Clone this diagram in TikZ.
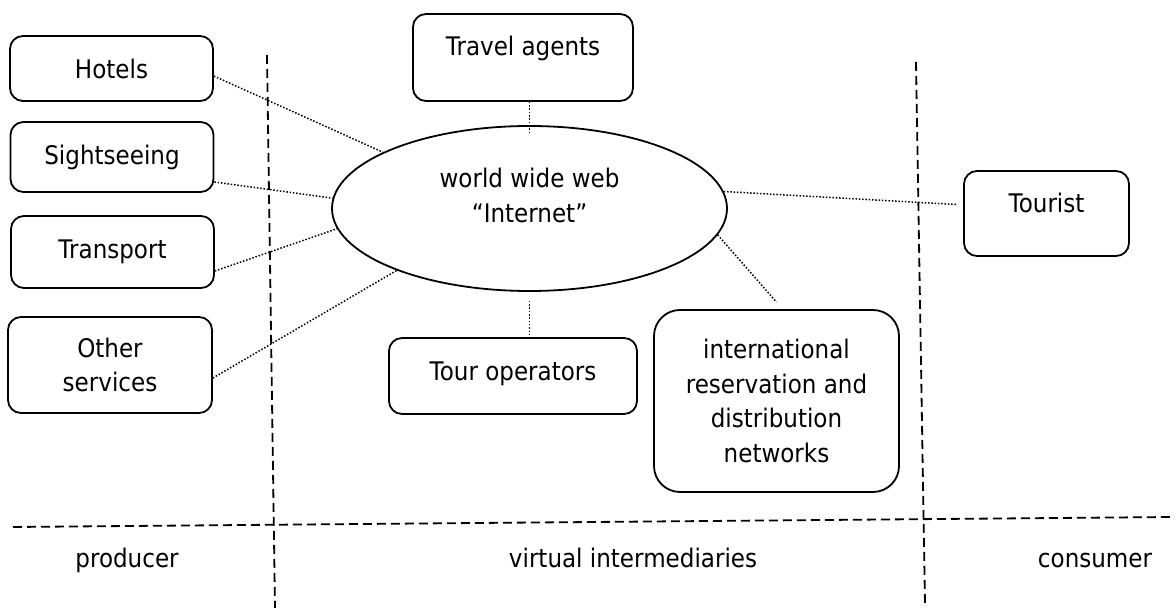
\documentclass[tikz,border=0pt]{standalone}
\usepackage{fontspec}
\setmainfont{DejaVu Sans}[FakeStretch=0.9]
\usetikzlibrary{shapes.geometric}

\begin{document}
\begin{tikzpicture}[
  x=0.5pt, y=-0.5pt,
  every node/.style={font=\fontsize{12.8}{17.3}\selectfont},
  sitebox/.style={rectangle, draw, line width=0.9pt, rounded corners=6.5pt, inner sep=0pt, minimum width=101.5pt, align=center},
  topbox/.style={sitebox, text height=21pt},
  hubnode/.style={ellipse, draw, line width=0.9pt, inner sep=0pt, minimum width=197.5pt, minimum height=82.5pt, align=center, text depth=13pt},
  link/.style={line width=0.75pt, dash pattern=on 0.75pt off 0.9pt},
  divider/.style={line width=0.9pt, dash pattern=on 4.5pt off 2.5pt},
  zonelabel/.style={anchor=base},
]
\useasboundingbox (0,0) rectangle (1176,608);

% Zone dividers
\draw[divider] (267,55) -- (275,608);
\draw[divider] (916,62) -- (925,605);
\draw[divider] (13,527) -- (1172,517);

% Left side: service providers
\node[sitebox, minimum height=32.5pt] (hotels) at (111.5,68.5) {Hotels};
\node[sitebox, minimum height=35pt] (sight) at (112,157) {Sightseeing};
\node[sitebox, minimum height=36pt] (transport) at (112.5,252) {Transport};
\node[sitebox, minimum width=102pt, minimum height=48pt] (other) at (110,365) {Other\\services};

% Middle: the web and the intermediaries
\node[hubnode] (www) at (529.5,208.5) {world wide web\\“Internet”};
\node[topbox, minimum width=110pt, text depth=22.5pt] (agents) at (523,57.5) {Travel agents};
\node[topbox, minimum width=124pt, text height=21.5pt, text depth=16.5pt] (tour) at (513,376) {Tour operators};
\node[sitebox, minimum width=122.5pt, minimum height=91pt, rounded corners=13pt] (intl) at (776.5,401) {international\\reservation and\\distribution\\networks};

% Right side: consumer
\node[topbox, minimum width=82.5pt, text depth=21.5pt] (tourist) at (1046.5,213.5) {Tourist};

% Links to the web
\draw[link] ([yshift=-3.8pt]hotels.east) -- (www.159);
\draw[link] ([yshift=-12.5pt]sight.east) -- (www.177);
\draw[link] ([yshift=-9.5pt]transport.east) -- (www.186);
\draw[link] ([yshift=-6.5pt]other.east) -- (www.205);
\draw[link] (www.north |- agents.south) -- ([yshift=-4pt]www.north);
\draw[link] ([yshift=-4.5pt]www.south) -- (tour.north -| www.south);
\draw[link] (www.-8) -- ([yshift=3.5pt]intl.north);
\draw[link] (www.5) -- ([shift={(-3.5pt,4.5pt)}]tourist.west);

% Zone labels
\node[zonelabel] (producer) at (127,567) {producer};
\node[zonelabel] (virtual) at (633,567) {virtual intermediaries};
\node[zonelabel] (consumer) at (1095,567) {consumer};

\end{tikzpicture}
\end{document}
